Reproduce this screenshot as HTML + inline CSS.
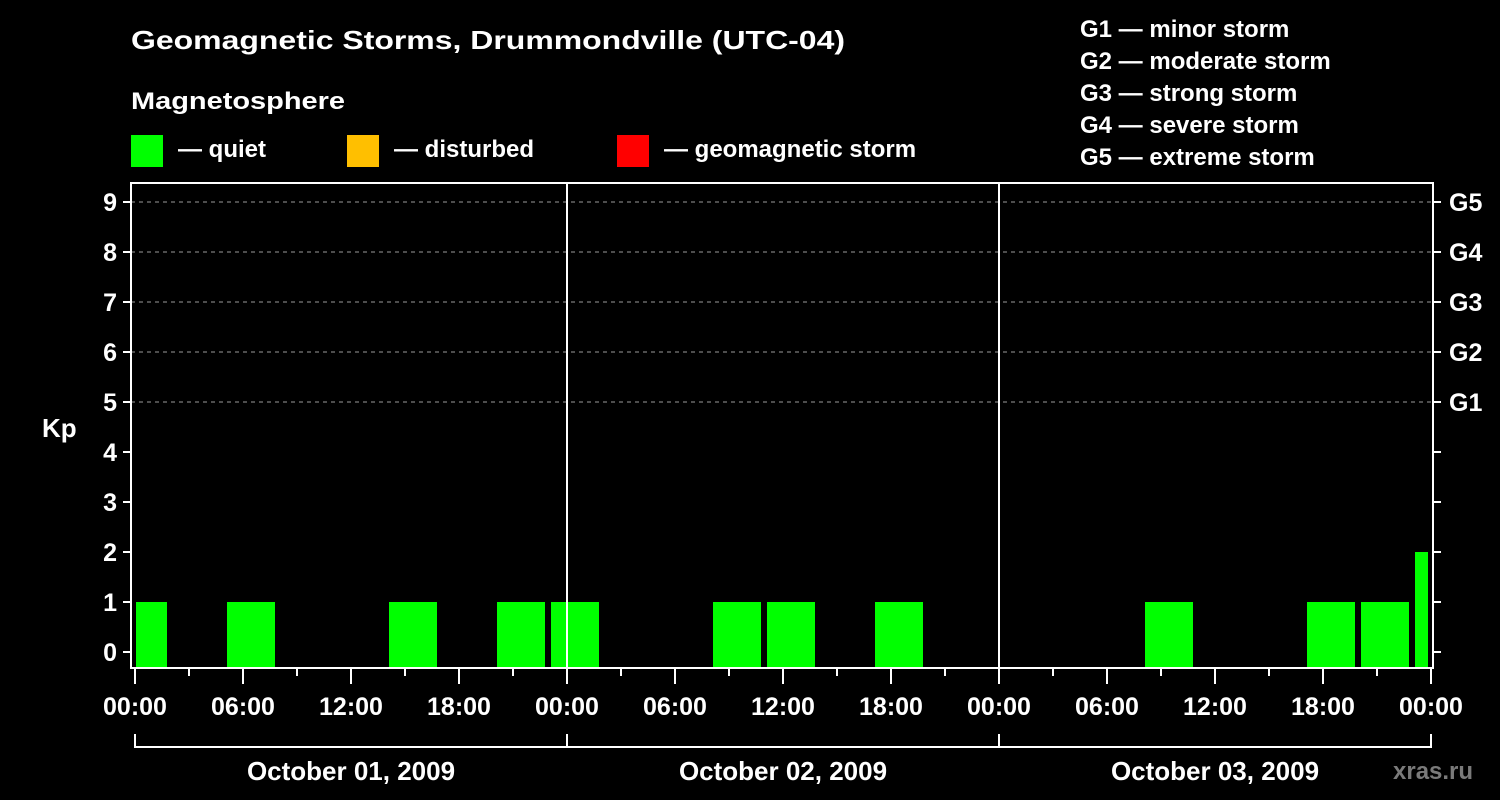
<!DOCTYPE html>
<html><head><meta charset="utf-8"><style>
html,body{margin:0;padding:0;background:#000;width:1500px;height:800px;overflow:hidden}
svg{display:block}
text{font-family:"Liberation Sans",Arial,sans-serif;font-weight:bold;fill:#fff}
</style></head><body>
<svg id="chart" width="1500" height="800" viewBox="0 0 1500 800">
<text x="131" y="49" font-size="26" textLength="714" lengthAdjust="spacingAndGlyphs">Geomagnetic Storms, Drummondville (UTC-04)</text>
<text x="131" y="109" font-size="24" textLength="214" lengthAdjust="spacingAndGlyphs">Magnetosphere</text>
<g>
<rect x="131" y="135" width="32" height="32" fill="#00ff00"/>
<text x="178" y="157" font-size="24">— quiet</text>
<rect x="347" y="135" width="32" height="32" fill="#ffbf00"/>
<text x="394" y="157" font-size="24">— disturbed</text>
<rect x="617" y="135" width="32" height="32" fill="#ff0000"/>
<text x="664" y="157" font-size="24">— geomagnetic storm</text>
</g>
<g font-size="24">
<text x="1080" y="37">G1 — minor storm</text>
<text x="1080" y="69">G2 — moderate storm</text>
<text x="1080" y="101">G3 — strong storm</text>
<text x="1080" y="133">G4 — severe storm</text>
<text x="1080" y="165">G5 — extreme storm</text>
</g>
<text x="42" y="437" font-size="26">Kp</text>
<g id="grid"></g>
<g id="bars"></g>
<g id="axes"></g>
<text x="1393" y="779" font-size="24" style="fill:#7a7a7a">xras.ru</text>
</svg>
<script>
// Kp values per 3-hour bin, bins start at -1h local (UTC-04) on Oct 01
const kpValues = [1,0,1,0,0,1,0,1,1,0,0,1,1,0,1,0,0,0,0,1,0,0,1,1,2];
const binStartHours = -1;
const yTicks = [0,1,2,3,4,5,6,7,8,9];
const gLabels = ["G1","G2","G3","G4","G5"];
const xTickLabels = ["00:00","06:00","12:00","18:00","00:00","06:00","12:00","18:00","00:00","06:00","12:00","18:00","00:00"];
const dayLabels = ["October 01, 2009","October 02, 2009","October 03, 2009"];

const NS="http://www.w3.org/2000/svg";
const L=131,R=1433,T=183,B=668;
const x=h=>135+h*18;
const y=v=>652-v*50;
function mk(tag,attrs,parent,txt){const e=document.createElementNS(NS,tag);for(const k in attrs)e.setAttribute(k,attrs[k]);if(txt!==undefined)e.textContent=txt;document.getElementById(parent).appendChild(e);return e;}

// grid
for(let v=5;v<=9;v++){
 const g=mk('line',{x1:L,x2:R,y1:y(v),y2:y(v),stroke:'#9a9a9a','stroke-width':1,'stroke-dasharray':'4,4'},'grid');
 
 
}
// bars
kpValues.forEach((v,i)=>{
 if(v<=0)return;
 let s=binStartHours+3*i,e=s+3;
 const xs=Math.max(x(s)+2,x(0)+1), xe=Math.min(x(e)-4,x(72)-3);
 const col=v>=5?'#ff0000':(v>=4?'#ffbf00':'#00ff00');
 const b=mk('rect',{x:xs,y:y(v),width:xe-xs,height:B-y(v),fill:col},'bars');
 
 
});
// axes
const frame=mk('rect',{x:L,y:T,width:R-L,height:B-T,fill:'none',stroke:'#fff','stroke-width':2},'axes');


[24,48].forEach(h=>{
 const d=mk('line',{x1:x(h),x2:x(h),y1:T,y2:B,stroke:'#fff','stroke-width':2},'axes');
 
 
});
yTicks.forEach(v=>{
 mk('line',{x1:L-8,x2:L,y1:y(v),y2:y(v),stroke:'#fff','stroke-width':2},'axes');
 mk('line',{x1:R,x2:R+8,y1:y(v),y2:y(v),stroke:'#fff','stroke-width':2},'axes');
 const t=mk('text',{x:117,y:y(v)+9,'font-size':25,'text-anchor':'end'},'axes',String(v));
 
 
});
gLabels.forEach((g,i)=>{
 const t=mk('text',{x:1449,y:y(5+i)+9,'font-size':25},'axes',g);
 
 
});
for(let h=0;h<=72;h+=3){
 const major=h%6===0;
 mk('line',{x1:x(h),x2:x(h),y1:B,y2:B+(major?16:8),stroke:'#fff','stroke-width':2},'axes');
}
xTickLabels.forEach((lab,i)=>{
 const t=mk('text',{x:x(i*6),y:715,'font-size':25,'text-anchor':'middle'},'axes',lab);
 
 
});
mk('line',{x1:x(0),x2:x(72),y1:747,y2:747,stroke:'#fff','stroke-width':2},'axes');
[0,24,48,72].forEach(h=>mk('line',{x1:x(h),x2:x(h),y1:734,y2:748,stroke:'#fff','stroke-width':2},'axes'));
dayLabels.forEach((d,i)=>{
 const t=mk('text',{x:x(i*24+12),y:780,'font-size':26,'text-anchor':'middle'},'axes',d);
 
 
});
</script>
</body></html>
